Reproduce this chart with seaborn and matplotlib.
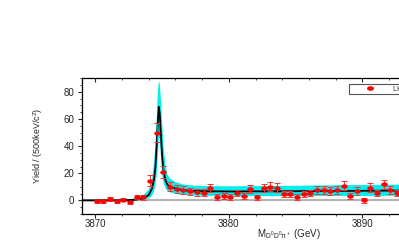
# Basics
import numpy as np
import pandas as pd

# Visualization
import matplotlib
matplotlib.use('Agg')
import matplotlib.pyplot as plt
import seaborn as sns
from matplotlib.path import Path
from matplotlib.transforms import Affine2D
from matplotlib.ticker import MultipleLocator, FixedLocator
from matplotlib.lines import Line2D

# Data points (bin centres, yields, errors)
mass = [3870.1, 3870.6, 3871.1, 3871.6, 3872.1, 3872.6, 3873.1, 3873.6, 3874.1, 3874.6,
        3875.1, 3875.6, 3876.1, 3876.6, 3877.1, 3877.6, 3878.1, 3878.6, 3879.1, 3879.6,
        3880.1, 3880.6, 3881.1, 3881.6, 3882.1, 3882.6, 3883.1, 3883.6, 3884.1, 3884.6,
        3885.1, 3885.6, 3886.1, 3886.6, 3887.1, 3887.6, 3888.1, 3888.6, 3889.1, 3889.6,
        3890.1, 3890.6, 3891.1, 3891.6, 3892.1, 3892.6]
yields = [-0.7, -0.7, 1.0, -0.7, 0.5, -1.5, 2.5, 2.2, 14.6, 50.0,
          21.0, 10.2, 8.5, 7.8, 6.6, 6.1, 5.8, 9.0, 2.5, 3.0,
          2.5, 5.4, 3.0, 8.3, 2.2, 9.0, 10.2, 9.5, 4.7, 4.7,
          2.5, 4.7, 5.4, 7.8, 7.8, 7.0, 7.8, 10.7, 3.0, 7.0,
          0.0, 9.5, 5.4, 12.0, 7.8, 5.4]
errors = [1.0, 1.0, 1.2, 1.0, 1.0, 1.0, 1.6, 1.6, 3.8, 7.0,
          4.6, 3.3, 3.0, 2.8, 2.7, 2.6, 2.6, 3.0, 2.2, 2.3,
          2.2, 2.5, 2.3, 3.0, 2.1, 3.0, 3.2, 3.1, 2.5, 2.5,
          2.2, 2.5, 2.5, 2.9, 2.9, 2.8, 2.9, 3.3, 2.3, 2.8,
          1.8, 3.1, 2.5, 3.4, 2.9, 2.5]

# Fit curve and its uncertainty band
fit_x = [3869.0, 3872.0, 3873.0, 3873.5, 3874.0, 3874.25, 3874.4, 3874.5, 3874.6, 3874.68,
         3874.75, 3874.82, 3874.9, 3875.0, 3875.1, 3875.25, 3875.4, 3875.6, 3876.0, 3876.5,
         3877.0, 3878.0, 3880.0, 3885.0, 3890.0, 3895.0, 3900.0]
fit_y = [0.0, 0.1, 0.5, 1.3, 4.0, 9.0, 16.0, 25.0, 42.0, 58.0,
         69.0, 64.0, 50.0, 33.0, 22.0, 15.0, 11.5, 10.0, 8.8, 7.8,
         7.2, 6.8, 6.6, 6.8, 7.1, 7.4, 7.6]
band_hi = [0.4, 0.6, 1.4, 3.0, 8.0, 16.0, 28.0, 42.0, 62.0, 80.0,
           88.0, 86.0, 76.0, 58.0, 40.0, 26.0, 19.0, 16.0, 13.5, 12.0,
           11.2, 10.6, 10.4, 10.8, 11.4, 11.8, 12.2]
band_lo = [-0.4, -0.3, 0.0, 0.3, 1.5, 3.5, 7.0, 11.0, 20.0, 33.0,
           46.0, 46.0, 34.0, 20.0, 13.0, 9.0, 7.0, 6.0, 5.0, 4.2,
           3.8, 3.4, 3.2, 3.2, 3.3, 3.4, 3.5]

# Major tick positions on the mass axis
mass_ticks = [3870, 3880, 3890]

data = pd.DataFrame({'mass': mass, 'yield': yields, 'err': errors})
fit = pd.DataFrame({'mass': fit_x, 'fit': fit_y, 'lo': band_lo, 'hi': band_hi})

sns.set_style('ticks')
plt.rcParams['font.family'] = ['Liberation Sans', 'DejaVu Sans']
plt.rcParams['mathtext.fontset'] = 'custom'
plt.rcParams['mathtext.rm'] = 'Liberation Sans'
plt.rcParams['mathtext.it'] = 'Liberation Sans:italic'

fig = plt.figure(figsize=(3.99, 2.42), dpi=100)
# the axes runs past the right edge of the picture, as in the reference
ax = fig.add_axes([82 / 399, 28 / 242, 414 / 399, 135.7 / 242])

# Zero line
ax.axhline(0, color='#b4b4b4', lw=1.5, zorder=1)

# Uncertainty band and fit
ax.fill_between(fit['mass'], fit['lo'], fit['hi'], color='#00f0f0', lw=0, zorder=2)
sns.lineplot(data=fit, x='mass', y='fit', color='black', lw=1.3, ax=ax, zorder=3)

# Points: slightly wide ellipse markers
ellipse = Path.unit_circle().transformed(Affine2D().scale(1.5, 1.0))
ax.errorbar(data['mass'], data['yield'], yerr=data['err'], fmt='none',
            ecolor='#ff3030', elinewidth=0.7, capsize=2.2, capthick=0.7, zorder=4)
sns.scatterplot(data=data, x='mass', y='yield', marker=ellipse, s=22,
                color='#ff0000', edgecolor='#ff0000', linewidth=0, ax=ax, zorder=5)

# Axes limits and ticks
ax.set_xlim(3869, 3900)
ax.set_ylim(-10, 90)
ax.xaxis.set_major_locator(FixedLocator(mass_ticks))
ax.xaxis.set_minor_locator(MultipleLocator(2))
ax.yaxis.set_major_locator(MultipleLocator(20))
ax.yaxis.set_minor_locator(MultipleLocator(5))
ax.tick_params(axis='both', which='major', labelsize=7, width=0.8, length=3, pad=2.5)
ax.tick_params(axis='x', which='major', pad=0.8)
ax.tick_params(axis='both', which='minor', width=0.6, length=1.6)
ax.tick_params(axis='x', top=True, which='both', direction='out')
ax.tick_params(axis='x', which='major', labeltop=False)
for t in ax.xaxis.get_ticklines(minor=False)[1::2] + ax.xaxis.get_ticklines(minor=True)[1::2]:
    t.set_marker(3)  # top ticks point inwards
ax.tick_params(axis='y', which='both', direction='out', right=False)
for side in ['left', 'bottom', 'top', 'right']:
    ax.spines[side].set_visible(True)
    ax.spines[side].set_linewidth(0.9)
    ax.spines[side].set_color('black')

# Labels
ax.set_xlabel(r'M$_{\mathrm{D^0D^0\pi^+}}$ (GeV)', fontsize=7)
ax.xaxis.set_label_coords(0.5, -0.095)
ax.set_ylabel(r'Yield / (500keV/c$^2$)', fontsize=6.5)
ax.yaxis.set_label_coords(-0.09, 0.5)

# Legend
proxy = Line2D([], [], ls='none', marker=ellipse, markersize=5,
               color='#ff0000', markeredgewidth=0)
leg = ax.legend([proxy], ['LHCb data'], loc='upper left',
                bbox_to_anchor=(349.3 / 399, 1 - 84 / 242), bbox_transform=fig.transFigure,
                fontsize=5, frameon=True, fancybox=False, framealpha=1,
                borderpad=0.25, handlelength=5.6, handletextpad=0.5, borderaxespad=0)
leg.get_frame().set_edgecolor('#555555')
leg.get_frame().set_linewidth(0.8)

fig.savefig('out.png', dpi=100)
